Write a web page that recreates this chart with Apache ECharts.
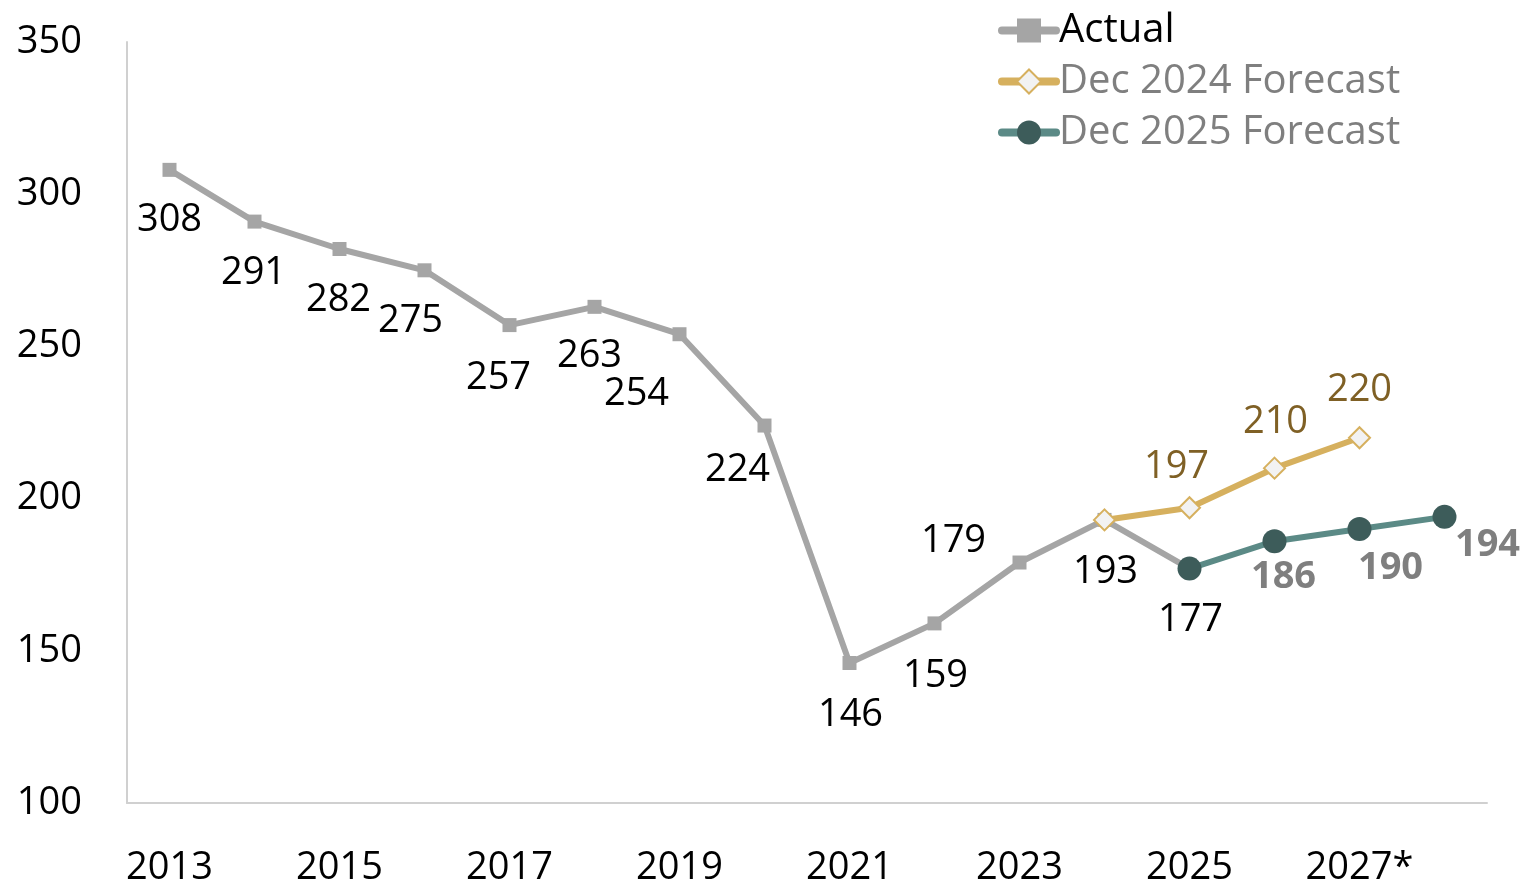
<!DOCTYPE html>
<html>
<head>
<meta charset="utf-8">
<script src="https://cdn.jsdelivr.net/npm/echarts@6/dist/echarts.min.js"></script>
<style>
  html, body { margin: 0; padding: 0; background: #fff; }
  #chart { width: 1527px; height: 887px; }
</style>
</head>
<body>
<div id="chart"></div>
<script>
// categories (x axis)
const years = ['2013', '2014', '2015', '2016', '2017', '2018', '2019', '2020',
  '2021', '2022', '2023', '2024', '2025', '2026', '2027*', '2028'];

// actual values
const actualYears = ['2013', '2014', '2015', '2016', '2017', '2018', '2019', '2020',
  '2021', '2022', '2023', '2024', '2025'];
const actualValues = [308, 291, 282, 275, 257, 263, 254, 224, 146, 159, 179, 193, 177];

// Dec 2024 forecast
const fc2024Years = ['2024', '2025', '2026', '2027*'];
const fc2024Values = [193, 197, 210, 220];

// Dec 2025 forecast
const fc2025Years = ['2025', '2026', '2027*', '2028'];
const fc2025Values = [177, 186, 190, 194];

const yTicks = [100, 150, 200, 250, 300, 350];

// label nudges (px from marker centre), null = no label
const actualLabelOffsets = [[0, 50], [-1, 52], [-1, 51], [-14, 51], [-11, 53], [-5, 49], [-43, 60],
  [-27, 45], [1, 52], [1, 53], [-66, -21], [1, 52], [1, 52]];
const fc2024LabelOffsets = [null, [-13, -41], [1, -46], [0, -48]];
const fc2025LabelOffsets = [null, [9, 36], [31, 39], [43, 28]];

const FONT = '"Open Sans", "Noto Sans", sans-serif';
const FS = 38;

function pts(xs, vs, offs, labelStyle) {
  return xs.map((x, i) => {
    const o = offs[i];
    return {
      value: [x, vs[i]],
      label: o ? Object.assign({ show: true, position: 'inside', offset: o }, labelStyle) : { show: false }
    };
  });
}

const chart = echarts.init(document.getElementById('chart'));
chart.setOption({
  animation: false,
  grid: { left: 127, right: 40, top: 42, bottom: 84, containLabel: false },
  legend: {
    orient: 'vertical',
    left: 993,
    top: 0,
    itemWidth: 54,
    itemHeight: 30,
    itemGap: 0,
    lineStyle: { width: 8, cap: 'round' },
    textStyle: { fontFamily: FONT, fontSize: 40, lineHeight: 51, color: '#7f7f7f', padding: [0, 0, 0, -2] },
    data: [
      { name: 'Actual', textStyle: { color: '#000' } },
      { name: 'Dec 2024 Forecast' },
      { name: 'Dec 2025 Forecast' }
    ]
  },
  xAxis: {
    type: 'category',
    data: years,
    boundaryGap: true,
    axisLine: { lineStyle: { color: '#d0d0d0', width: 2 } },
    axisTick: { show: false },
    axisLabel: { interval: 1, margin: 46, fontFamily: FONT, fontSize: FS, color: '#000' }
  },
  yAxis: {
    type: 'value',
    min: yTicks[0],
    max: yTicks[yTicks.length - 1],
    interval: 50,
    axisLine: { show: true, lineStyle: { color: '#d0d0d0', width: 2 } },
    axisTick: { show: false },
    splitLine: { show: false },
    axisLabel: { margin: 45, fontFamily: FONT, fontSize: FS, color: '#000' }
  },
  series: [
    {
      name: 'Actual',
      type: 'line',
      z: 2,
      data: pts(actualYears, actualValues, actualLabelOffsets,
        { fontFamily: FONT, fontSize: FS, color: '#000' }),
      lineStyle: { color: '#a5a5a5', width: 6 },
      itemStyle: { color: '#a5a5a5' },
      symbol: 'rect',
      symbolSize: 14,
      showAllSymbol: true
    },
    {
      name: 'Dec 2024 Forecast',
      type: 'line',
      z: 3,
      data: pts(fc2024Years, fc2024Values, fc2024LabelOffsets,
        { fontFamily: FONT, fontSize: FS, color: '#7f6025' }),
      lineStyle: { color: '#d6b05e', width: 6 },
      itemStyle: { color: '#f2f2f2', borderColor: '#d6b05e', borderWidth: 2 },
      symbol: 'diamond',
      symbolSize: 21
    },
    {
      name: 'Dec 2025 Forecast',
      type: 'line',
      z: 4,
      data: pts(fc2025Years, fc2025Values, fc2025LabelOffsets,
        { fontFamily: FONT, fontSize: FS, fontWeight: 'bold', color: '#7f7f7f' }),
      lineStyle: { color: '#5b8a86', width: 6 },
      itemStyle: { color: '#3d5c5a' },
      symbol: 'circle',
      symbolSize: 24
    }
  ]
});
</script>
</body>
</html>
